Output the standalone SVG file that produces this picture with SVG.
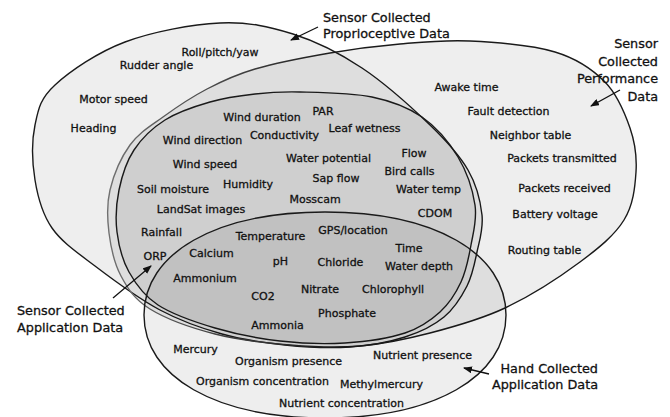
<svg xmlns="http://www.w3.org/2000/svg" width="670" height="417" viewBox="0 0 670 417">
<defs>
<style>
.set{fill:#000;fill-opacity:0.065;stroke:#1a1a1a;stroke-width:1.4}
text{font-family:"DejaVu Sans","Liberation Sans",sans-serif;font-size:11px;fill:#111;stroke:#111;stroke-width:0.3;text-anchor:middle}
.lbl{font-size:12.8px;text-anchor:start}
.lr{font-size:12.8px;text-anchor:end}
.arr{stroke:#111;stroke-width:1.3;fill:none;marker-end:url(#ah)}
</style>
<linearGradient id="bg" gradientUnits="userSpaceOnUse" x1="110" y1="0" x2="340" y2="0">
<stop offset="0" stop-color="#707070"/><stop offset="1" stop-color="#1a1a1a"/>
</linearGradient>
<marker id="ah" markerWidth="9" markerHeight="7" refX="8" refY="3.5" orient="auto" markerUnits="userSpaceOnUse">
<path d="M0,0 L9,3.5 L0,7 z" fill="#111"/>
</marker>
</defs>
<rect width="670" height="417" fill="#fff"/>
<g id="proprioceptive">
<path class="set" d="M220,23 C248,21.7 269.3,26.5 293,34 C316.7,41.5 339.2,52.8 362,68 C384.8,83.2 412.3,108 430,125 C447.7,142 459.3,155 468,170 C476.7,185 480.5,201.3 482,215 C483.5,228.7 479.5,240.2 477,252 C474.5,263.8 472.5,275.2 467,286 C461.5,296.8 454.3,308.5 444,317 C433.7,325.5 420.7,332 405,337 C389.3,342 370,345.7 350,347 C330,348.3 306.3,347.2 285,345 C263.7,342.8 242.8,339.8 222,334 C201.2,328.2 181.2,321.3 160,310 C138.8,298.7 113,279.7 95,266 C77,252.3 62,242.3 52,228 C42,213.7 37.8,197.2 35,180 C32.2,162.8 31.7,140.8 35,125 C38.3,109.2 40,98.8 55,85 C70,71.2 97.5,52.3 125,42 C152.5,31.7 192,24.3 220,23 Z"/>
</g>
<g id="performance">
<path class="set" style="stroke:url(#bg)" d="M470,41 C495.8,42.3 532.5,45.2 555,52 C577.5,58.8 592.5,69.3 605,82 C617.5,94.7 624.8,113 630,128 C635.2,143 637,156.7 636,172 C635,187.3 633.3,205 624,220 C614.7,235 599.8,247.3 580,262 C560.2,276.7 530,296.2 505,308 C480,319.8 454.2,326.7 430,333 C405.8,339.3 383.3,344 360,346 C336.7,348 314.2,347 290,345 C265.8,343 238.3,340 215,334 C191.7,328 165.7,318.7 150,309 C134.3,299.3 127.8,288.7 121,276 C114.2,263.3 110.8,247.3 109,233 C107.2,218.7 106.5,204.7 110,190 C113.5,175.3 121.2,157.2 130,145 C138.8,132.8 150.2,126.3 163,117 C175.8,107.7 191.7,97 207,89 C222.3,81 234.5,75 255,69 C275.5,63 305.8,57.2 330,53 C354.2,48.8 376.7,46 400,44 C423.3,42 444.2,39.7 470,41 Z"/>
</g>
<g id="sensor-application">
<path class="set" d="M300,92 C319.5,92.5 351.7,92.8 372,97 C392.3,101.2 407.7,107 422,117 C436.3,127 449.2,142.3 458,157 C466.8,171.7 472.8,190.3 475,205 C477.2,219.7 473.3,232.2 471,245 C468.7,257.8 466.2,270.8 461,282 C455.8,293.2 449.3,303.5 440,312 C430.7,320.5 420.8,327.8 405,333 C389.2,338.2 365.8,341.7 345,343 C324.2,344.3 301.7,343.5 280,341 C258.3,338.5 235.3,334 215,328 C194.7,322 172.3,314.3 158,305 C143.7,295.7 135.8,284.2 129,272 C122.2,259.8 118.7,245.7 117,232 C115.3,218.3 116.2,203.7 119,190 C121.8,176.3 126.3,161.7 134,150 C141.7,138.3 152.3,128 165,120 C177.7,112 195,106.3 210,102 C225,97.7 240,95.7 255,94 C270,92.3 280.5,91.5 300,92 Z"/>
</g>
<g id="hand-application">
<path class="set" d="M506,315 C506,377 434,418 325,418 C216,418 144,377 144,315 C144,253 216,212 325,212 C434,212 506,253 506,315 Z"/>
</g>
<g id="connectors">
<path class="arr" d="M318,27 L291,40"/>
<path class="arr" d="M620,90 L591,106"/>
<path class="arr" d="M113,298 L151,266"/>
<path class="arr" d="M489,374 L464,368"/>
</g>
<g id="labels">
<text class="lbl" x="323" y="22">Sensor Collected</text>
<text class="lbl" x="323" y="38">Proprioceptive Data</text>
<text class="lr" x="658" y="48">Sensor</text>
<text class="lr" x="658" y="66">Collected</text>
<text class="lr" x="658" y="83">Performance</text>
<text class="lr" x="658" y="101">Data</text>
<text class="lbl" x="17" y="315">Sensor Collected</text>
<text class="lbl" x="17" y="332">Application Data</text>
<text class="lr" x="598" y="373">Hand Collected</text>
<text class="lr" x="598" y="389">Application Data</text>
</g>
<g id="items">
<text x="220" y="56">Roll/pitch/yaw</text>
<text x="156.5" y="69">Rudder angle</text>
<text x="113.5" y="103">Motor speed</text>
<text x="93.5" y="132">Heading</text>
<text x="262" y="121">Wind duration</text>
<text x="323" y="115">PAR</text>
<text x="284.5" y="139">Conductivity</text>
<text x="364.5" y="132">Leaf wetness</text>
<text x="202.5" y="144">Wind direction</text>
<text x="205" y="168">Wind speed</text>
<text x="328.5" y="162">Water potential</text>
<text x="414" y="157">Flow</text>
<text x="409.5" y="175">Bird calls</text>
<text x="173" y="193">Soil moisture</text>
<text x="248" y="188">Humidity</text>
<text x="336" y="182">Sap flow</text>
<text x="428.5" y="193">Water temp</text>
<text x="315" y="203">Mosscam</text>
<text x="201" y="213">LandSat images</text>
<text x="435" y="217">CDOM</text>
<text x="161.5" y="236">Rainfall</text>
<text x="270.5" y="240">Temperature</text>
<text x="353" y="234">GPS/location</text>
<text x="409" y="252">Time</text>
<text x="155" y="260">ORP</text>
<text x="211.5" y="257">Calcium</text>
<text x="280.5" y="265">pH</text>
<text x="340.5" y="266">Chloride</text>
<text x="419" y="270">Water depth</text>
<text x="205" y="282">Ammonium</text>
<text x="320" y="293">Nitrate</text>
<text x="393" y="293">Chlorophyll</text>
<text x="263" y="300">CO2</text>
<text x="347" y="317">Phosphate</text>
<text x="277.5" y="329">Ammonia</text>
<text x="195.5" y="353">Mercury</text>
<text x="288.5" y="365">Organism presence</text>
<text x="422.5" y="359">Nutrient presence</text>
<text x="262.5" y="385">Organism concentration</text>
<text x="381.5" y="388">Methylmercury</text>
<text x="341.5" y="407">Nutrient concentration</text>
<text x="466.5" y="91">Awake time</text>
<text x="508.5" y="115">Fault detection</text>
<text x="530.5" y="139">Neighbor table</text>
<text x="562" y="162">Packets transmitted</text>
<text x="564.5" y="192">Packets received</text>
<text x="555" y="218">Battery voltage</text>
<text x="544.5" y="254">Routing table</text>
</g>
</svg>
